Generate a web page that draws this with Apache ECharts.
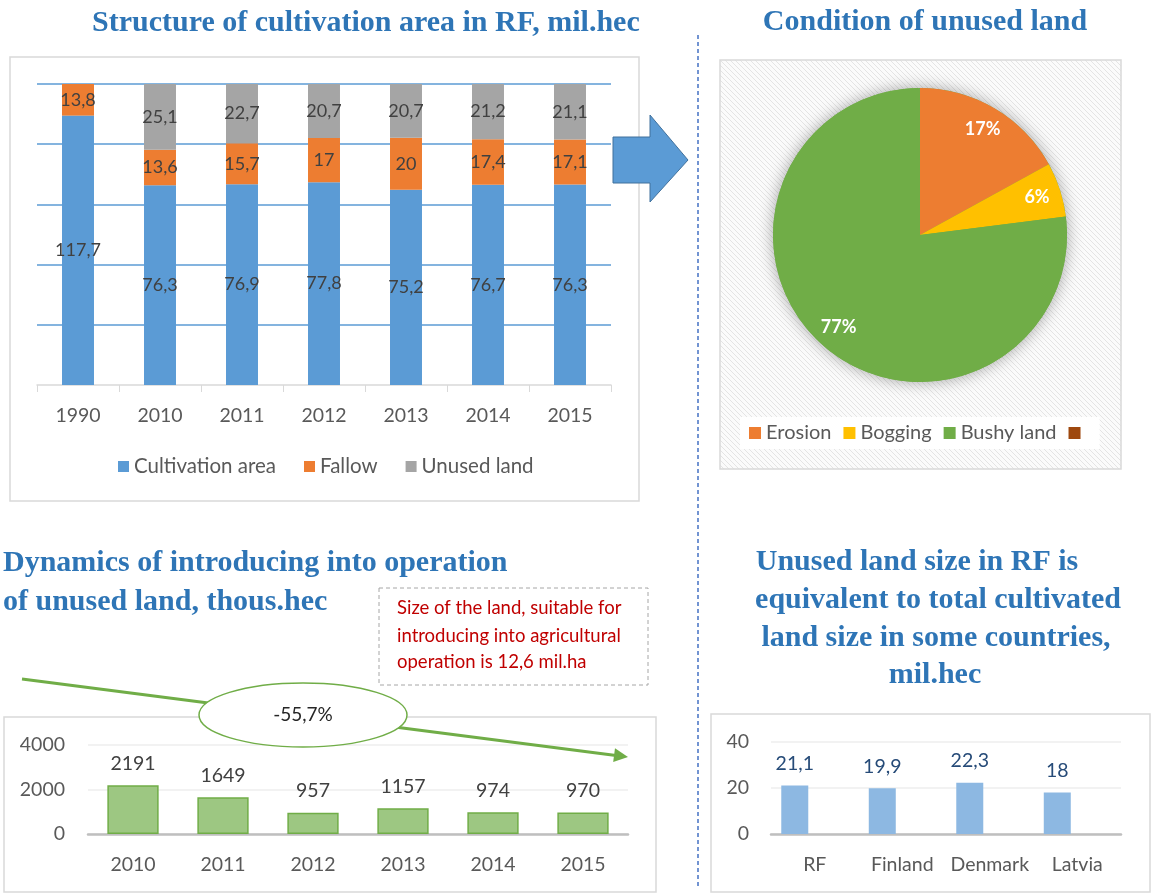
<!DOCTYPE html>
<html>
<head>
<meta charset="utf-8">
<script src="https://cdn.jsdelivr.net/npm/echarts@6/dist/echarts.min.js"></script>
<style>
  html, body { margin: 0; padding: 0; background: #fff; }
  #main { width: 1151px; height: 893px; }
</style>
</head>
<body>
<div id="main"></div>
<script>
// Structure of cultivation area, mil.hec
var years = ['1990', '2010', '2011', '2012', '2013', '2014', '2015'];
var cultivation = [117.7, 76.3, 76.9, 77.8, 75.2, 76.7, 76.3];
var fallow = [13.8, 13.6, 15.7, 17, 20, 17.4, 17.1];
var unused = [null, 25.1, 22.7, 20.7, 20.7, 21.2, 21.1];

// Condition of unused land, %
var landTypes = ['Erosion', 'Bogging', 'Bushy land', ' '];
var landShare = [17, 6, 77, 0];

// Introducing unused land into operation, thous.hec
var opYears = ['2010', '2011', '2012', '2013', '2014', '2015'];
var introduced = [2191, 1649, 957, 1157, 974, 970];

// Cultivated land size in some countries, mil.hec
var countries = ['RF', 'Finland', 'Denmark', 'Latvia'];
var countryLand = [21.1, 19.9, 22.3, 18];

var FONT = 'Lato';
var TITLE_FONT = 'bold 30px "Liberation Serif"';
var TITLE_COLOR = '#2e75b6';
var NOTE_FONT = '18.5px ' + FONT;

function comma(v) { return String(v).replace('.', ','); }

// totals for the 100% stacked chart
var totals = years.map(function (y, i) {
  return cultivation[i] + fallow[i] + (unused[i] || 0);
});
function share(arr) {
  return arr.map(function (v, i) { return v == null ? null : v / totals[i] * 100; });
}

// hatch pattern for the pie panel
var hatch = document.createElement('canvas');
hatch.width = 5; hatch.height = 5;
(function () {
  var c = hatch.getContext('2d');
  c.fillStyle = '#fbfbfb';
  c.fillRect(0, 0, 5, 5);
  c.strokeStyle = '#e4e4e4';
  c.lineWidth = 1;
  c.beginPath();
  c.moveTo(0, 0); c.lineTo(5, 5);
  c.moveTo(-1, 4); c.lineTo(1, 6);
  c.moveTo(4, -1); c.lineTo(6, 1);
  c.stroke();
})();

var pieTotal = landShare.reduce(function (a, b) { return a + b; }, 0);
var pieColors = ['#ed7d31', '#ffc000', '#70ad47', '#9e480e'];

var chart = echarts.init(document.getElementById('main'));

var stackLabel = {
  show: true, position: 'inside', color: '#404040', fontFamily: FONT, fontSize: 18,
  formatter: function (p) { return comma(p.data.raw); }
};
function stackData(arr) {
  var s = share(arr);
  return arr.map(function (v, i) { return { value: s[i], raw: v }; });
}

var option = {
  animation: false,
  textStyle: { fontFamily: FONT },
  graphic: [
    // panels
    { type: 'rect', z: -10, shape: { x: 10, y: 57, width: 629, height: 444 },
      style: { fill: '#fff', stroke: '#d9d9d9', lineWidth: 1.5 } },
    { type: 'rect', z: -10, shape: { x: 720, y: 60, width: 401, height: 409 },
      style: { fill: { image: hatch, repeat: 'repeat' }, stroke: '#d9d9d9', lineWidth: 1.5 } },
    { type: 'rect', z: -10, shape: { x: 4, y: 717, width: 652, height: 175 },
      style: { fill: '#fff', stroke: '#d9d9d9', lineWidth: 1.5 } },
    { type: 'rect', z: -10, shape: { x: 711, y: 714, width: 439, height: 178 },
      style: { fill: '#fff', stroke: '#d9d9d9', lineWidth: 1.5 } },
    // divider
    { type: 'line', z: 5, shape: { x1: 698, y1: 35, x2: 698, y2: 888 },
      style: { stroke: '#4472c4', lineWidth: 1.5, lineDash: [4, 3] } },
    // titles
    { type: 'text', z: 5, x: 92, y: 23,
      style: { text: 'Structure of cultivation area in RF, mil.hec', font: TITLE_FONT, fill: TITLE_COLOR, textVerticalAlign: 'middle' } },
    { type: 'text', z: 5, x: 925, y: 22,
      style: { text: 'Condition of unused land', font: TITLE_FONT, fill: TITLE_COLOR, textAlign: 'center', textVerticalAlign: 'middle' } },
    { type: 'text', z: 5, x: 3, y: 563,
      style: { text: 'Dynamics of introducing into operation', font: TITLE_FONT, fill: TITLE_COLOR, textVerticalAlign: 'middle' } },
    { type: 'text', z: 5, x: 3, y: 602,
      style: { text: 'of unused land, thous.hec', font: TITLE_FONT, fill: TITLE_COLOR, textVerticalAlign: 'middle' } },
    { type: 'text', z: 5, x: 917, y: 562,
      style: { text: 'Unused land size in RF is', font: TITLE_FONT, fill: TITLE_COLOR, textAlign: 'center', textVerticalAlign: 'middle' } },
    { type: 'text', z: 5, x: 938, y: 600,
      style: { text: 'equivalent to total cultivated', font: TITLE_FONT, fill: TITLE_COLOR, textAlign: 'center', textVerticalAlign: 'middle' } },
    { type: 'text', z: 5, x: 936, y: 638,
      style: { text: 'land size in some countries,', font: TITLE_FONT, fill: TITLE_COLOR, textAlign: 'center', textVerticalAlign: 'middle' } },
    { type: 'text', z: 5, x: 935, y: 675,
      style: { text: 'mil.hec', font: TITLE_FONT, fill: TITLE_COLOR, textAlign: 'center', textVerticalAlign: 'middle' } },
    // blue block arrow
    { type: 'polygon', z: 5,
      shape: { points: [[613, 137], [650, 137], [650, 115], [688, 160], [650, 202], [650, 183], [613, 183]] },
      style: { fill: '#5b9bd5', stroke: '#41719c', lineWidth: 1 } },
    // note box
    { type: 'rect', z: 5, shape: { x: 379, y: 588, width: 269, height: 97 },
      style: { fill: '#fff', stroke: '#a6a6a6', lineWidth: 1, lineDash: [4, 3] } },
    { type: 'text', z: 6, x: 397, y: 608,
      style: { text: 'Size of the land, suitable for', font: NOTE_FONT, fill: '#c00000', textVerticalAlign: 'middle' } },
    { type: 'text', z: 6, x: 397, y: 636,
      style: { text: 'introducing into agricultural', font: NOTE_FONT, fill: '#c00000', textVerticalAlign: 'middle' } },
    { type: 'text', z: 6, x: 397, y: 662,
      style: { text: 'operation is 12,6 mil.ha', font: NOTE_FONT, fill: '#c00000', textVerticalAlign: 'middle' } },
    // trend arrow with ellipse
    { type: 'line', z: 5, shape: { x1: 22, y1: 679, x2: 616, y2: 755.5 },
      style: { stroke: '#70ad47', lineWidth: 3 } },
    { type: 'polygon', z: 5, shape: { points: [[628, 757], [615, 748.3], [613.2, 762.1]] },
      style: { fill: '#70ad47' } },
    { type: 'ellipse', z: 6, shape: { cx: 303, cy: 715, rx: 104, ry: 32 },
      style: { fill: '#fff', stroke: '#70ad47', lineWidth: 1.5 } },
    { type: 'text', z: 7, x: 303, y: 715,
      style: { text: '-55,7%', font: '19px ' + FONT, fill: '#262626', textAlign: 'center', textVerticalAlign: 'middle' } }
  ],
  legend: [
    {
      data: ['Cultivation area', 'Fallow', 'Unused land'],
      left: 113, top: 451, itemWidth: 11, itemHeight: 11, itemGap: 28, icon: 'rect',
      selectedMode: false, textStyle: { color: '#595959', fontSize: 20.5, fontFamily: FONT }
    },
    {
      data: landTypes,
      left: 740, top: 417, itemWidth: 12, itemHeight: 12, itemGap: 12, icon: 'rect',
      padding: [6, 9], backgroundColor: '#ffffff',
      selectedMode: false, textStyle: { color: '#595959', fontSize: 20, fontFamily: FONT }
    }
  ],
  grid: [
    { left: 37, top: 84, width: 574, height: 301 },
    { left: 88, top: 745, width: 540, height: 89 },
    { left: 771, top: 742, width: 350, height: 92 }
  ],
  xAxis: [
    { gridIndex: 0, type: 'category', data: years,
      axisLine: { lineStyle: { color: '#d9d9d9', width: 1.5 } },
      axisTick: { show: true, length: 7, lineStyle: { color: '#d9d9d9' } },
      axisLabel: { color: '#595959', fontSize: 19.5, margin: 21 } },
    { gridIndex: 1, type: 'category', data: opYears,
      axisLine: { lineStyle: { color: '#bfbfbf', width: 2.5 } },
      axisTick: { show: false },
      axisLabel: { color: '#595959', fontSize: 19.5, margin: 21 } },
    { gridIndex: 2, type: 'category', data: countries,
      axisLine: { lineStyle: { color: '#bfbfbf', width: 2.5 } },
      axisTick: { show: false },
      axisLabel: { interval: 0, color: '#595959', fontSize: 19.5, margin: 21 } }
  ],
  yAxis: [
    { gridIndex: 0, type: 'value', min: 0, max: 100, interval: 20,
      axisLabel: { show: false }, axisLine: { show: false }, axisTick: { show: false },
      splitLine: { showMinLine: false, lineStyle: { color: '#5b9bd5', width: 1.5 } } },
    { gridIndex: 1, type: 'value', min: 0, max: 4000, interval: 2000,
      axisLabel: { color: '#595959', fontSize: 19.5, margin: 23,
        formatter: function (v) { return String(v); } },
      axisLine: { show: false }, axisTick: { show: false },
      splitLine: { lineStyle: { color: '#eeeeee', width: 1.5 } } },
    { gridIndex: 2, type: 'value', min: 0, max: 40, interval: 20,
      axisLabel: { color: '#595959', fontSize: 19.5, margin: 22 },
      axisLine: { show: false }, axisTick: { show: false },
      splitLine: { lineStyle: { color: '#eeeeee', width: 1.5 } } }
  ],
  series: [
    { name: 'Cultivation area', type: 'bar', stack: 'total', xAxisIndex: 0, yAxisIndex: 0,
      barWidth: '39%', itemStyle: { color: '#5b9bd5' }, label: stackLabel, data: stackData(cultivation) },
    { name: 'Fallow', type: 'bar', stack: 'total', xAxisIndex: 0, yAxisIndex: 0,
      barWidth: '39%', itemStyle: { color: '#ed7d31' }, label: stackLabel, data: stackData(fallow) },
    { name: 'Unused land', type: 'bar', stack: 'total', xAxisIndex: 0, yAxisIndex: 0,
      barWidth: '39%', itemStyle: { color: '#a5a5a5' }, label: stackLabel, data: stackData(unused) },

    // pie: soft shadow underneath, slices, labels ring
    { type: 'pie', silent: true, center: [920, 235], radius: 147, z: 1,
      label: { show: false }, labelLine: { show: false },
      itemStyle: { color: '#70ad47', shadowBlur: 16, shadowColor: 'rgba(0,0,0,0.35)' },
      data: [{ name: 'all', value: pieTotal }] },
    { type: 'pie', silent: true, center: [920, 235], radius: 147, z: 2,
      startAngle: 90, clockwise: true,
      label: { show: false }, labelLine: { show: false },
      data: landTypes.map(function (n, i) { return { name: n, value: landShare[i], itemStyle: { color: pieColors[i] } }; }) },
    { type: 'pie', silent: true, center: [920, 235], radius: [93, 147], z: 3,
      startAngle: 90, clockwise: true, minShowLabelAngle: 0.5,
      itemStyle: { color: 'rgba(0,0,0,0)' },
      label: { show: true, position: 'inside', color: '#fff', fontWeight: 'bold', fontSize: 18, fontFamily: FONT,
        formatter: function (p) { return p.value + '%'; } },
      labelLine: { show: false },
      data: landTypes.map(function (n, i) { return { name: n, value: landShare[i] }; }) },

    { name: 'Introduced', type: 'bar', xAxisIndex: 1, yAxisIndex: 1, barWidth: '57%',
      itemStyle: { color: '#9dc782', borderColor: '#70ad47', borderWidth: 1.5 },
      label: { show: true, position: 'top', distance: 12, color: '#404040', fontSize: 19.5 },
      data: introduced },

    { name: 'Land', type: 'bar', xAxisIndex: 2, yAxisIndex: 2, barWidth: 27, barGap: '48%',
      itemStyle: { color: '#8db8e2' },
      label: { show: true, position: 'top', distance: 12, color: '#264b78', fontSize: 19.5,
        formatter: function (p) { return comma(p.value); } },
      data: countryLand },
    { name: 'Series 2', type: 'bar', xAxisIndex: 2, yAxisIndex: 2, barWidth: 27, data: [] }
  ]
};

chart.setOption(option);
</script>
</body>
</html>
